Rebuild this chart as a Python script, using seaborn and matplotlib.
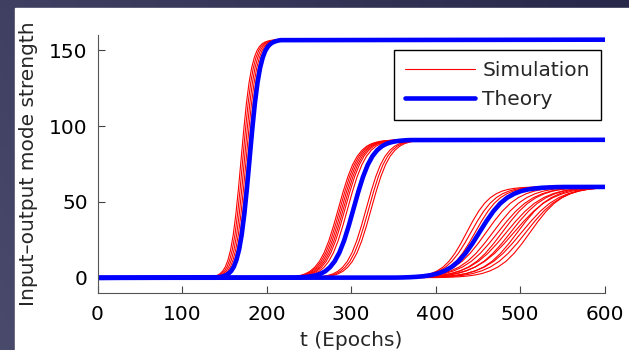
import numpy as np
import pandas as pd
import matplotlib
matplotlib.use('Agg')
import matplotlib.pyplot as plt
import seaborn as sns
from matplotlib.patches import Rectangle

sns.set_style('ticks')
plt.rcParams['font.family'] = ['DejaVu Sans']

# sigmoid rise shape: fraction of final level,
# sampled at offsets (in units of the mode's rise width) from the midpoint
rise_x = [-6, -5.5, -5, -4.5, -4, -3.5, -3, -2.5, -2, -1.5, -1, -0.5, 0,
          0.5, 1, 1.5, 2, 2.5, 3, 3.5, 4, 4.5, 5, 5.5, 6]
rise_frac = [0.0025, 0.0041, 0.0067, 0.011, 0.018, 0.029, 0.047, 0.076, 0.119,
             0.182, 0.269, 0.378, 0.5, 0.622, 0.731, 0.818, 0.881, 0.924,
             0.953, 0.971, 0.982, 0.989, 0.993, 0.996, 0.9975]

# three modes: final strength, theory midpoint (epochs), rise width (epochs)
mode_level = [157, 91, 60]
theory_mid = [180, 303, 452]
theory_width = [6.2, 11.2, 16.5]

# simulation runs: midpoint and rise width per run, per mode
sim_mid_1 = [170, 172, 174, 176, 178]
sim_width_1 = [6.2, 6.2, 6.2, 6.2, 6.2]
sim_mid_2 = [285, 287, 289, 291, 293, 296, 318, 321, 324]
sim_width_2 = [11.2, 11.2, 11.2, 11.2, 11.2, 11.2, 11.2, 11.2, 11.2]
sim_mid_3 = [437, 442, 447, 460, 468, 474, 479, 484, 489, 493, 497, 502, 507, 512]
sim_width_3 = [14, 15, 15, 19, 20, 21, 20, 22, 21, 23, 20, 22, 21, 19]


def run_frame(level, mid, width, kind, run):
    t = [0] + [mid + x * width for x in rise_x] + [700]
    v = [0] + [level * f for f in rise_frac] + [level]
    return pd.DataFrame({'t': t, 'v': v, 'kind': kind, 'run': run})


frames = []
sims = [(sim_mid_1, sim_width_1), (sim_mid_2, sim_width_2), (sim_mid_3, sim_width_3)]
n = 0
for m, (mids, widths) in enumerate(sims):
    for mid, w in zip(mids, widths):
        frames.append(run_frame(mode_level[m], mid, w, 'Simulation', n))
        n += 1
for m in range(3):
    frames.append(run_frame(mode_level[m], theory_mid[m], theory_width[m], 'Theory', n))
    n += 1
df = pd.concat(frames, ignore_index=True)

fig = plt.figure(figsize=(6.29, 3.5), dpi=100)
fig.patch.set_facecolor('#2e2e50')

# slide-like dark backdrop with white panel
bg = fig.add_axes([0, 0, 1, 1], zorder=-2)
gx, gy = np.meshgrid(np.linspace(1, 0, 200), np.linspace(0, 1, 200))
bg.imshow(0.7 * gx + 0.3 * gy, cmap=sns.blend_palette(['#28284a', '#4a4a6c'], as_cmap=True),
          aspect='auto', extent=[0, 1, 0, 1])
bg.add_patch(Rectangle((15 / 629, 0), 1, 1 - 8 / 350, color='white'))
bg.set_xlim(0, 1)
bg.set_ylim(0, 1)
bg.axis('off')

ax = fig.add_axes([97.5 / 629, 1 - 293 / 350, 507 / 629, 258 / 350])
ax.set_facecolor('none')
sns.lineplot(data=df, x='t', y='v', hue='kind', size='kind', units='run',
             estimator=None, sort=False, palette={'Simulation': '#ff0000', 'Theory': '#0000ff'},
             sizes={'Simulation': 0.8, 'Theory': 3.3}, ax=ax)

handles, labels = ax.get_legend_handles_labels()
ax.legend(handles[-2:], labels[-2:], loc='upper right', bbox_to_anchor=(0.993, 0.942),
          fontsize=14.5, frameon=True, fancybox=False, edgecolor='black',
          framealpha=1, handlelength=3.5, handletextpad=0.35, borderpad=0.55,
          labelspacing=0.5, borderaxespad=0)
ax.get_legend().get_frame().set_linewidth(1.0)

ax.set_xlim(0, 600)
ax.set_ylim(-10, 160)
ax.set_xticks([0, 100, 200, 300, 400, 500, 600])
ax.set_yticks([0, 50, 100, 150])
ax.tick_params(direction='in', length=5, labelsize=14.5, colors='#444444', labelcolor='black')
ax.tick_params(axis='x', pad=9)
ax.tick_params(axis='y', pad=7)
ax.set_xlabel('t (Epochs)', fontsize=14.5, labelpad=5)
ax.set_ylabel('Input\u2013output mode strength', fontsize=14.5, labelpad=8)
for s in ['top', 'right']:
    ax.spines[s].set_visible(False)
for s in ['left', 'bottom']:
    ax.spines[s].set_color('#555555')

fig.savefig('out.png', dpi=100, facecolor=fig.get_facecolor())
